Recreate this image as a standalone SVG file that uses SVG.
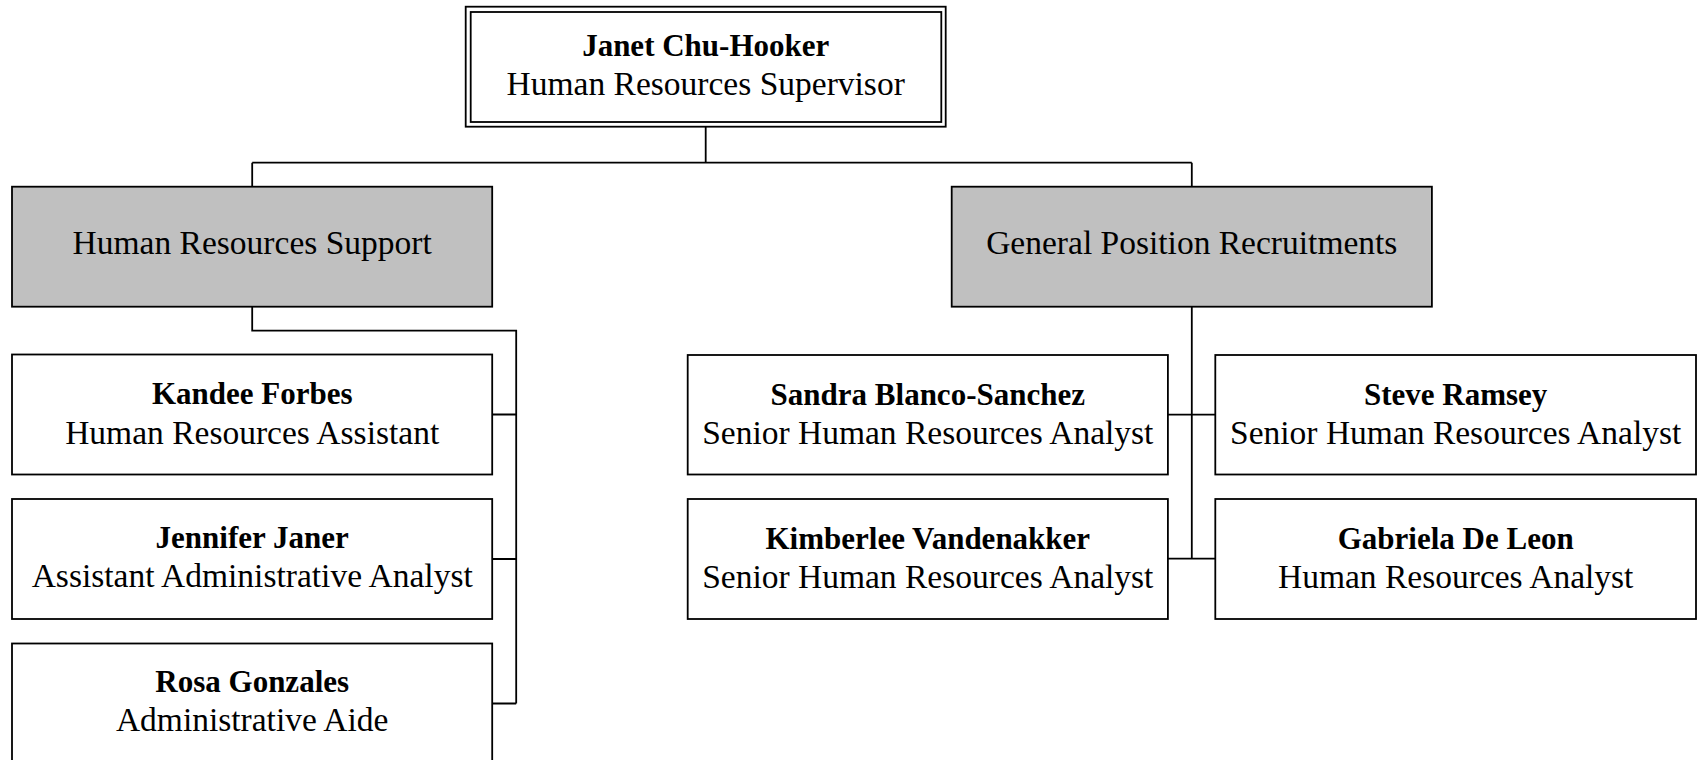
<svg xmlns="http://www.w3.org/2000/svg" width="1702" height="760" viewBox="0 0 1702 760">
<style>
  .box { fill: #ffffff; stroke: #000000; stroke-width: 1.8; }
  .grey { fill: #c0c0c0; stroke: #000000; stroke-width: 1.8; }
  .name { font-family: "Liberation Serif", "Times New Roman", serif; font-weight: bold; font-size: 31px; fill: #000; text-anchor: middle; }
  .title { font-family: "Liberation Serif", "Times New Roman", serif; font-size: 33.5px; fill: #000; text-anchor: middle; }
  .conn { fill: none; stroke: #000000; stroke-width: 1.8; }
</style>
<rect width="1702" height="760" fill="#ffffff"/>
<g id="connectors">
  <path class="conn" d="M705.7,126.7 V162.7 M252.2,162.7 H1191.8 M252.2,162.7 V186.7 M1191.8,162.7 V186.7"/>
  <path class="conn" d="M252.2,306.7 V330.7 H516.2 V703.5 M492.2,414.5 H516.2 M492.2,559 H516.2 M492.2,703.5 H516.2"/>
  <path class="conn" d="M1191.8,306.7 V558.7 M1167.9,414.7 H1215.3 M1167.9,558.7 H1215.3"/>
</g>
<g id="janet">
  <rect x="465.7" y="6.7" width="480" height="120" fill="#fff" stroke="#000" stroke-width="1.8"/>
  <rect x="470.7" y="12" width="470.6" height="110" fill="none" stroke="#000" stroke-width="1.8"/>
  <text class="name" x="705.7" y="56">Janet Chu-Hooker</text>
  <text class="title" x="705.7" y="95">Human Resources Supervisor</text>
</g>
<g id="hr-support">
  <rect class="grey" x="12" y="186.7" width="480.2" height="120"/>
  <text class="title" x="252.2" y="254">Human Resources Support</text>
</g>
<g id="general-recruit">
  <rect class="grey" x="951.7" y="186.7" width="480.2" height="120"/>
  <text class="title" x="1191.8" y="254">General Position Recruitments</text>
</g>
<g id="kandee">
  <rect class="box" x="12" y="354.5" width="480.2" height="120"/>
  <text class="name" x="252.2" y="403.5">Kandee Forbes</text>
  <text class="title" x="252.2" y="443.5">Human Resources Assistant</text>
</g>
<g id="jennifer">
  <rect class="box" x="12" y="499" width="480.2" height="120"/>
  <text class="name" x="252.2" y="548">Jennifer Janer</text>
  <text class="title" x="252.2" y="587">Assistant Administrative Analyst</text>
</g>
<g id="rosa">
  <rect class="box" x="12" y="643.5" width="480.2" height="120"/>
  <text class="name" x="252.2" y="692">Rosa Gonzales</text>
  <text class="title" x="252.2" y="731">Administrative Aide</text>
</g>
<g id="sandra">
  <rect class="box" x="687.7" y="355" width="480.2" height="119.5"/>
  <text class="name" x="927.8" y="404.5">Sandra Blanco-Sanchez</text>
  <text class="title" x="927.8" y="443.8">Senior Human Resources Analyst</text>
</g>
<g id="kimberlee">
  <rect class="box" x="687.7" y="499" width="480.2" height="120"/>
  <text class="name" x="927.8" y="548.5">Kimberlee Vandenakker</text>
  <text class="title" x="927.8" y="588">Senior Human Resources Analyst</text>
</g>
<g id="steve">
  <rect class="box" x="1215.3" y="355" width="480.7" height="119.5"/>
  <text class="name" x="1455.7" y="404.5">Steve Ramsey</text>
  <text class="title" x="1455.7" y="443.8">Senior Human Resources Analyst</text>
</g>
<g id="gabriela">
  <rect class="box" x="1215.3" y="499" width="480.7" height="120"/>
  <text class="name" x="1455.7" y="548.5">Gabriela De Leon</text>
  <text class="title" x="1455.7" y="588">Human Resources Analyst</text>
</g>
</svg>
